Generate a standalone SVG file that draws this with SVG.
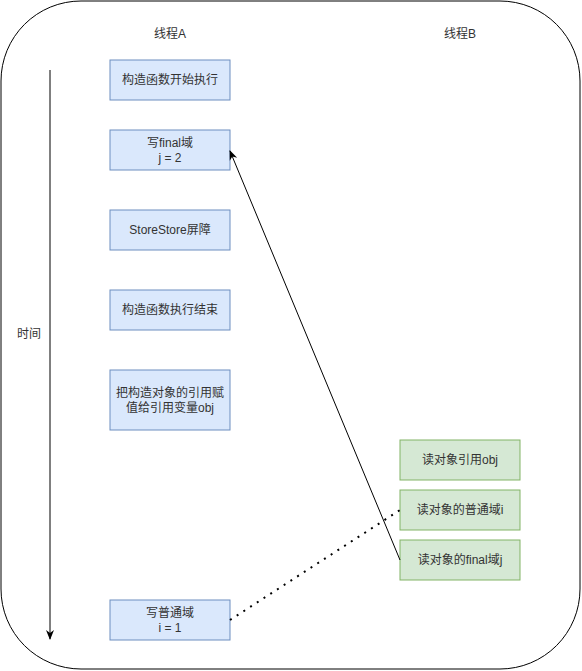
<svg xmlns="http://www.w3.org/2000/svg" width="582" height="671" viewBox="0 0 582 671">
<style>
text{font-family:"Liberation Sans","Noto Sans CJK SC",sans-serif;font-size:12px;fill:#333;text-anchor:middle}
.b{fill:#dae8fc;stroke:#6c8ebf;stroke-width:1}
.g{fill:#d5e8d4;stroke:#82b366;stroke-width:1}
.l{fill:none;stroke:#000;stroke-width:1}
</style>
<defs>
<marker id="ah" viewBox="0 0 10 10" refX="9" refY="5" markerWidth="10" markerHeight="10" markerUnits="userSpaceOnUse" orient="auto">
<path d="M0,1 L10,5 L0,9 L3,5 Z" fill="#000"/>
</marker>
</defs>
<g id="frame"><rect x="1" y="1" width="579" height="668" rx="80" ry="80" fill="#fff" stroke="#000" stroke-width="1"/></g>
<g id="labels">
<text x="170" y="38">线程A</text>
<text x="460" y="38">线程B</text>
<text x="29" y="338">时间</text>
</g>
<g id="n1"><rect class="b" x="110" y="60" width="120" height="40"/><text x="170" y="84">构造函数开始执行</text></g>
<g id="n2"><rect class="b" x="110" y="130" width="120" height="40"/><text x="170" y="147">写final域</text><text x="170" y="162">j = 2</text></g>
<g id="n3"><rect class="b" x="110" y="210" width="120" height="40"/><text x="170" y="234">StoreStore屏障</text></g>
<g id="n4"><rect class="b" x="110" y="290" width="120" height="40"/><text x="170" y="314">构造函数执行结束</text></g>
<g id="n5"><rect class="b" x="110" y="370" width="120" height="60"/><text x="170" y="397">把构造对象的引用赋</text><text x="170" y="412">值给引用变量obj</text></g>
<g id="n6"><rect class="b" x="110" y="600" width="120" height="40"/><text x="170" y="617">写普通域</text><text x="170" y="632">i = 1</text></g>
<g id="m1"><rect class="g" x="400" y="440" width="120" height="40"/><text x="460" y="464">读对象引用obj</text></g>
<g id="m2"><rect class="g" x="400" y="490" width="120" height="40"/><text x="460" y="514">读对象的普通域i</text></g>
<g id="m3"><rect class="g" x="400" y="540" width="120" height="40"/><text x="460" y="564">读对象的final域j</text></g>
<g id="connectors">
<line class="l" x1="50" y1="70" x2="50" y2="639" marker-end="url(#ah)"/>
<line class="l" x1="400" y1="560" x2="230" y2="151" marker-end="url(#ah)"/>
<line x1="230" y1="620" x2="400" y2="510" stroke="#000" stroke-width="2" stroke-dasharray="2 6"/>
</g>
</svg>
